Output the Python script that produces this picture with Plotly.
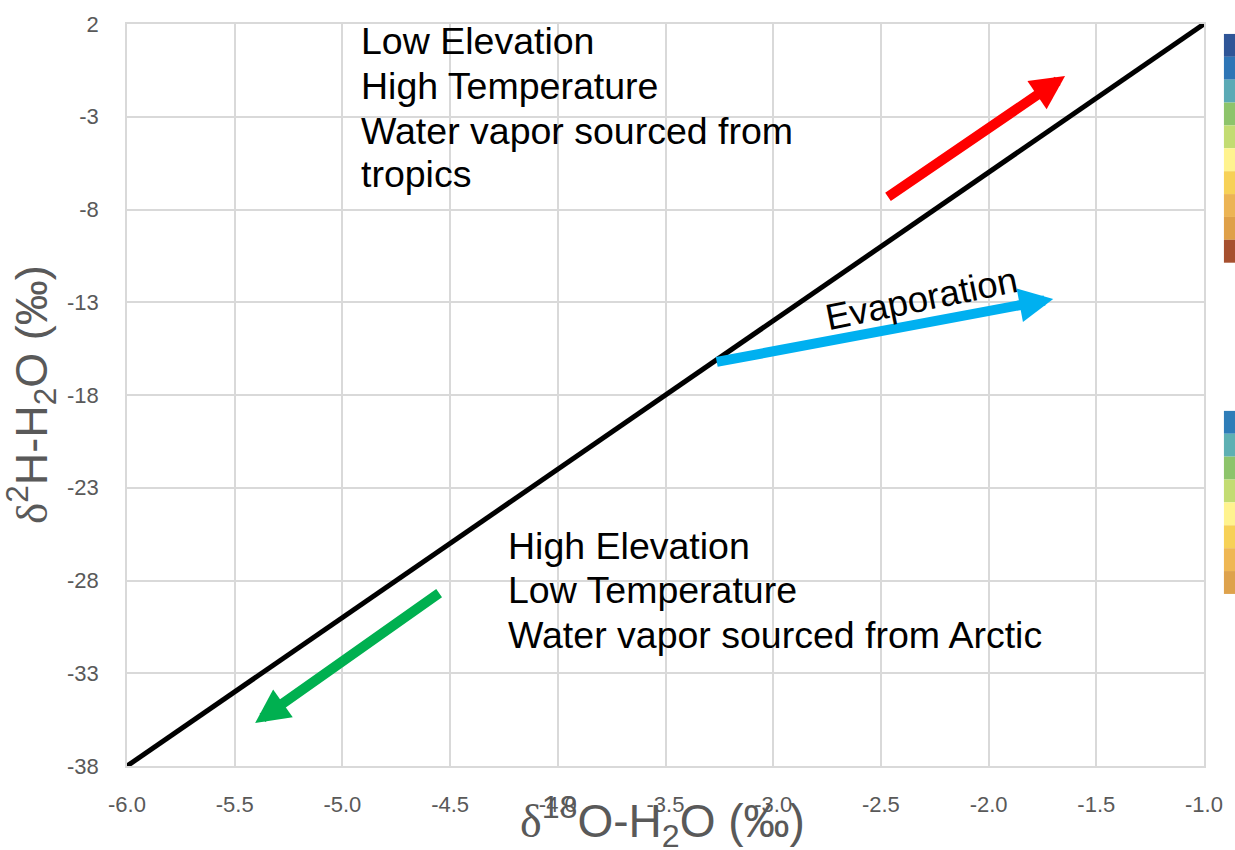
import plotly.graph_objects as go

# ---- data ----
gmwl_x = [-6.0, -1.0]          # δ18O endpoints of the meteoric water line
gmwl_y = [-38.0, 2.0]          # δ2H endpoints
x_ticks = [-6.0, -5.5, -5.0, -4.5, -4.0, -3.5, -3.0, -2.5, -2.0, -1.5, -1.0]
y_ticks = [2, -3, -8, -13, -18, -23, -28, -33, -38]

# arrows: (tail_x, tail_y, tip_x, tip_y)
red_arrow = (-2.474, -7.38, -1.645, -0.80)
blue_arrow = (-3.269, -16.23, -1.70, -12.82)
green_arrow = (-4.544, -28.62, -5.405, -35.68)

top_text = ["Low Elevation", "High Temperature", "Water vapor sourced from", "tropics"]
top_text_y = [1.08, -1.33, -3.75, -6.11]
bottom_text = ["High Elevation", "Low Temperature", "Water vapor sourced from Arctic"]
bottom_text_y = [-26.16, -28.52, -30.93]

swatch_top = ["#2F5597", "#2E75B6", "#5BAAB5", "#8DC46B", "#C3DC72",
              "#FFF38F", "#F7D157", "#ECB454", "#DFA048", "#A6502F"]
swatch_bottom = ["#2E7DB8", "#5EB0B3", "#8DC46B", "#C3DC72",
                 "#FFF38F", "#F7D157", "#EFB753", "#DEA24C"]

FONT = "Liberation Sans, Arial, sans-serif"
GREY = "#595959"
GRID = "#D9D9D9"

fig = go.Figure()
fig.add_trace(go.Scatter(x=gmwl_x, y=gmwl_y, mode="lines",
                         line=dict(color="black", width=5),
                         showlegend=False, hoverinfo="skip"))

annotations = []
for (tx, ty, hx, hy), col in [(red_arrow, "#FF0000"), (blue_arrow, "#00B0F0"),
                              (green_arrow, "#00B050")]:
    annotations.append(dict(x=hx, y=hy, ax=tx, ay=ty, xref="x", yref="y",
                            axref="x", ayref="y", text="", showarrow=True,
                            arrowhead=2, arrowsize=0.68, arrowwidth=10,
                            arrowcolor=col))

for t, yy in zip(top_text, top_text_y):
    annotations.append(dict(x=-4.925, y=yy, xref="x", yref="y", text=t,
                            showarrow=False, xanchor="left", yanchor="middle",
                            font=dict(family=FONT, size=37.5, color="black")))
for t, yy in zip(bottom_text, bottom_text_y):
    annotations.append(dict(x=-4.24, y=yy, xref="x", yref="y", text=t,
                            showarrow=False, xanchor="left", yanchor="middle",
                            font=dict(family=FONT, size=37.5, color="black")))

annotations.append(dict(x=-2.31, y=-12.8, xref="x", yref="y", text="Evaporation",
                        showarrow=False, textangle=-11.5,
                        font=dict(family=FONT, size=36.5, color="black")))

delta = '<span style="font-family:\'Liberation Serif\', serif">δ</span>'
annotations.append(dict(x=0.497, y=0, xref="paper", yref="paper", yanchor="top",
                        yshift=-21, showarrow=False,
                        text=delta + "<sup>18</sup>O-H<sub>2</sub>O (‰)",
                        font=dict(family=FONT, size=46, color=GREY)))
annotations.append(dict(x=0, y=0.5, xref="paper", yref="paper", xanchor="right",
                        xshift=-62, showarrow=False, textangle=-90,
                        text=delta + "<sup>2</sup>H-H<sub>2</sub>O (‰)",
                        font=dict(family=FONT, size=45, color=GREY)))

shapes = []
def add_swatches(colors, top, bottom):
    h = (top - bottom) / len(colors)
    for i, c in enumerate(colors):
        shapes.append(dict(type="rect", xref="paper", yref="paper",
                           x0=1.0185, x1=1.03, y0=top - (i + 1) * h, y1=top - i * h,
                           fillcolor=c, line=dict(width=0), layer="above"))
add_swatches(swatch_top, 0.9866, 0.6783)
add_swatches(swatch_bottom, 0.4786, 0.2319)

fig.update_layout(
    width=1235, height=850,
    margin=dict(l=127, r=26, t=20, b=84),
    paper_bgcolor="white", plot_bgcolor="white",
    annotations=annotations, shapes=shapes,
    xaxis=dict(range=[-6, -1], tickvals=x_ticks,
               ticktext=[f"{v:.1f}" for v in x_ticks],
               showgrid=True, gridcolor=GRID, gridwidth=1.5,
               showline=True, linecolor=GRID, linewidth=1.5, mirror=True,
               zeroline=False, ticks="", ticklabelstandoff=18,
               tickfont=dict(family=FONT, size=22, color=GREY)),
    yaxis=dict(range=[-38, 2], tickvals=y_ticks,
               ticktext=[str(v) for v in y_ticks],
               showgrid=True, gridcolor=GRID, gridwidth=1.5,
               showline=True, linecolor=GRID, linewidth=1.5, mirror=True,
               zeroline=False, ticks="", ticklabelstandoff=22,
               tickfont=dict(family=FONT, size=22, color=GREY)),
)

fig.write_html("out.html")
